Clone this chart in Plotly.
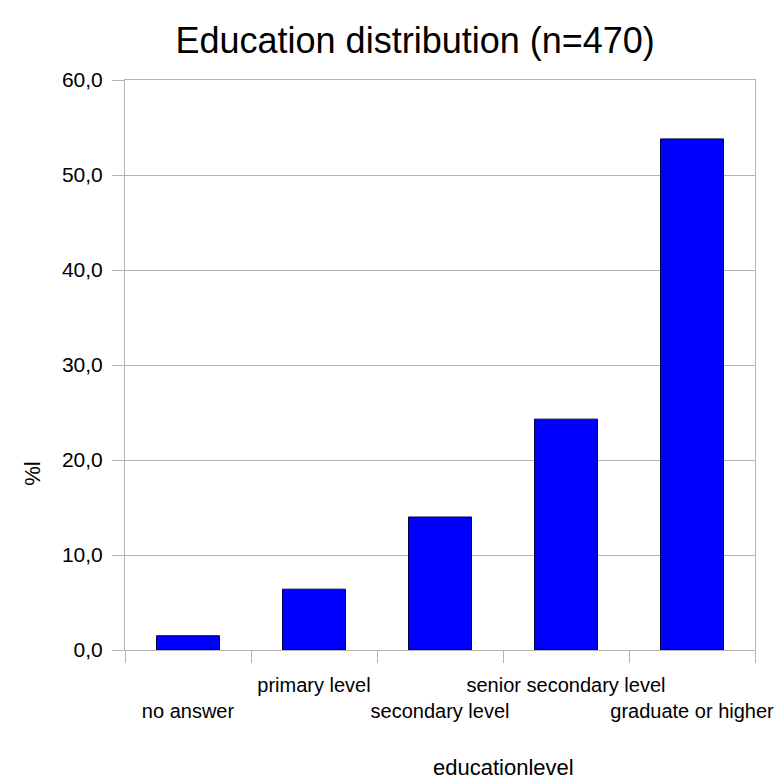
import plotly.graph_objects as go

categories = ["no answer", "primary level", "secondary level", "senior secondary level", "graduate or higher"]
percent = [1.5, 6.4, 14.0, 24.3, 53.8]
tick_labels = ["<br>no answer", "primary level", "<br>secondary level", "senior secondary level", "<br>graduate or higher"]
y_ticks = [0, 10, 20, 30, 40, 50, 60]

FONT = "Liberation Sans, Arial, sans-serif"
GRID = "#b4b4b4"

fig = go.Figure(go.Bar(
    x=categories, y=percent,
    marker=dict(color="#0000FF", line=dict(color="#000040", width=1)),
    width=0.5,
))

fig.update_layout(
    width=776, height=783,
    margin=dict(l=125, r=21, t=80, b=133),
    paper_bgcolor="white", plot_bgcolor="white",
    separators=",.",
    showlegend=False,
    font=dict(family=FONT, color="black", size=21),
    title=dict(text="Education distribution (n=470)", x=0.535, xanchor="center",
               y=0.948, yanchor="middle", font=dict(size=36, family=FONT)),
    annotations=[
        dict(text="educationlevel", xref="paper", yref="paper", x=0.6, y=-0.207,
             xanchor="center", yanchor="middle", showarrow=False, font=dict(size=22)),
        dict(text="%l", xref="paper", yref="paper", x=-0.147, y=0.31, textangle=-90,
             xanchor="center", yanchor="middle", showarrow=False, font=dict(size=22)),
    ],
)

fig.update_xaxes(
    type="category", tickvals=categories, ticktext=tick_labels, tickangle=0,
    automargin=False, ticklabelstandoff=17,
    tickson="boundaries", ticks="outside", ticklen=12, tickcolor=GRID,
    showline=True, linecolor=GRID, linewidth=1, mirror=True,
    showgrid=False, tickfont=dict(size=20),
)
fig.update_yaxes(
    range=[0, 60], tickvals=y_ticks, tickformat=".1f", automargin=False,
    ticklabelstandoff=5,
    ticks="outside", ticklen=12, tickcolor=GRID,
    showline=True, linecolor=GRID, linewidth=1, mirror=True,
    showgrid=True, gridcolor=GRID, gridwidth=1, zeroline=False,
    tickfont=dict(size=21),
)

fig.write_html("out.html")
